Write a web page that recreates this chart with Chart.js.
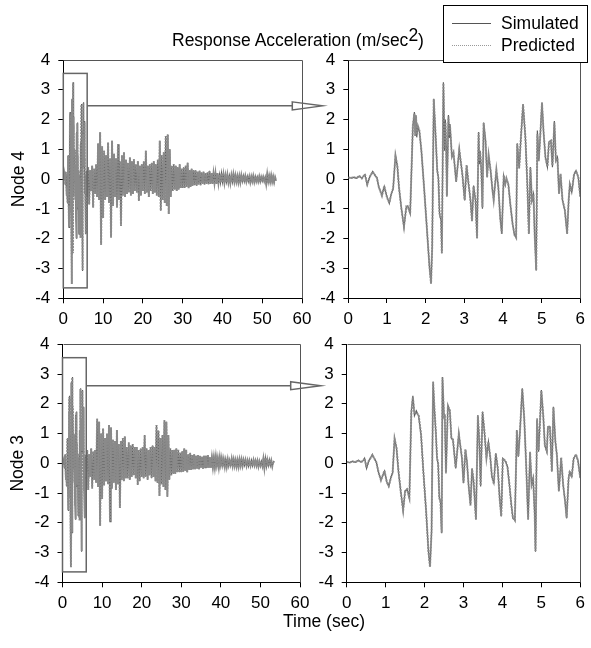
<!DOCTYPE html>
<html>
<head>
<meta charset="utf-8">
<script src="https://cdn.jsdelivr.net/npm/chart.js@4.4.1/dist/chart.umd.min.js"></script>
<style>
html,body{margin:0;padding:0;background:#fff;}
#wrap{position:relative;width:591px;height:648px;overflow:hidden;font-family:"Liberation Sans",Arial,sans-serif;color:#000;}
#wrap canvas{position:absolute;left:0;top:0;}
.txt{position:absolute;font-size:17.5px;white-space:nowrap;line-height:18px;}
#legendBox{position:absolute;left:443px;top:5px;width:145px;height:58px;border:1px solid #000;background:#fff;box-sizing:border-box;}
.sample{position:absolute;left:452px;width:39px;height:0;}
</style>
</head>
<body>
<div id="wrap">
  <canvas id="c4full" width="591" height="648"></canvas>
  <canvas id="c4zoom" width="591" height="648"></canvas>
  <canvas id="c3full" width="591" height="648"></canvas>
  <canvas id="c3zoom" width="591" height="648"></canvas>
  <div class="txt" style="left:172px;top:31px;">Response Acceleration (m/sec<span style="position:relative;top:-5px;">2</span>)</div>
  <div id="legendBox"></div>
  <div id="sampleSim" class="sample" style="top:23px;"></div>
  <div id="samplePred" class="sample" style="top:45px;"></div>
  <div id="labSim" class="txt" style="left:501px;top:14px;"></div>
  <div id="labPred" class="txt" style="left:501px;top:36px;"></div>
  <div class="txt" style="left:283px;top:612px;">Time (sec)</div>
</div>
<script>
// ---------------- DATA ----------------
const seriesNames = ["Simulated", "Predicted"];
const nodeNames = ["Node 4", "Node 3"];

// Node 4, first 6 seconds (zoomed panel)
const time4 = [0.00,0.08,0.15,0.22,0.28,0.35,0.43,0.49,0.55,0.63,
 0.69,0.74,0.79,0.87,0.93,1.00,1.06,1.11,1.16,1.22,
 1.27,1.31,1.37,1.44,1.50,1.54,1.60,1.67,1.71,1.73,
 1.75,1.77,1.80,1.84,1.89,1.96,2.03,2.10,2.14,2.17,
 2.21,2.26,2.30,2.33,2.36,2.40,2.42,2.46,2.49,2.51,
 2.53,2.55,2.59,2.61,2.63,2.68,2.72,2.79,2.87,2.95,
 3.01,3.06,3.11,3.16,3.20,3.24,3.29,3.33,3.37,3.39,
 3.41,3.44,3.47,3.50,3.55,3.59,3.63,3.68,3.73,3.76,
 3.83,3.88,3.93,3.97,4.02,4.06,4.09,4.14,4.19,4.25,
 4.30,4.34,4.37,4.42,4.46,4.52,4.58,4.63,4.67,4.71,
 4.75,4.79,4.82,4.86,4.89,4.93,4.97,5.01,5.05,5.10,
 5.15,5.19,5.24,5.28,5.33,5.37,5.41,5.45,5.49,5.54,
 5.60,5.66,5.70,5.73,5.78,5.84,5.89,5.95,6.00];
const simulated4 = [0.05,0.03,0.06,0.02,0.10,0.03,0.15,-0.20,0.05,0.25,
 0.12,0.05,-0.28,-0.55,-0.25,-0.60,-0.82,-0.50,-0.33,0.80,
 0.40,-0.28,-0.95,-1.62,-0.95,-0.90,-1.17,1.75,2.25,1.60,
 2.10,1.40,1.80,1.58,0.95,-0.28,-1.62,-2.97,-3.50,-2.30,
 2.70,1.40,0.28,0.05,-1.17,-1.40,-2.50,3.25,0.95,2.00,
 1.10,-0.60,2.15,1.40,1.85,0.73,0.90,-0.10,1.00,0.15,
 -0.72,0.45,-0.17,-0.72,-1.40,-0.22,-0.72,-2.00,1.58,0.50,
 0.95,0.28,-1.00,1.90,1.30,0.05,0.78,0.28,-0.40,-0.68,
 0.28,-0.28,-1.30,-1.85,0.10,-0.20,0.00,-0.17,-0.85,-1.50,
 -1.90,-1.95,1.20,0.35,1.30,2.52,1.40,-0.17,-1.85,0.40,
 -0.72,-0.50,-1.85,-3.08,1.63,0.60,1.63,2.58,1.58,0.73,
 0.40,1.25,1.30,0.40,1.95,0.60,0.73,-0.50,0.15,-0.72,
 -1.05,-1.85,-0.72,-0.17,-0.45,0.15,0.28,0.05,-0.60];
const predicted4 = [0.05,0.04,0.05,0.03,0.11,0.02,0.16,-0.18,0.06,0.24,
 0.13,0.04,-0.27,-0.56,-0.24,-0.62,-0.80,-0.52,-0.31,0.78,
 0.44,-0.25,-0.97,-1.60,-0.92,-0.93,-1.14,1.80,2.20,1.45,
 2.15,1.50,1.78,1.62,0.97,-0.30,-1.60,-2.95,-3.52,-2.28,
 2.68,1.45,0.30,0.02,-1.15,-1.38,-2.48,3.22,1.05,1.90,
 1.20,-0.55,2.10,1.50,1.80,0.75,0.88,-0.08,0.98,0.17,
 -0.70,0.47,-0.15,-0.70,-1.42,-0.25,-0.70,-1.98,1.55,0.60,
 0.90,0.35,-0.95,1.88,1.25,0.08,0.80,0.30,-0.38,-0.70,
 0.30,-0.25,-1.32,-1.83,0.12,-0.15,0.02,-0.19,-0.83,-1.52,
 -1.88,-1.97,1.18,0.38,1.28,2.50,1.42,-0.15,-1.83,0.38,
 -0.70,-0.52,-1.83,-3.05,1.50,0.70,1.55,2.55,1.60,0.70,
 0.42,1.22,1.28,0.45,1.90,0.62,0.70,-0.48,0.17,-0.70,
 -1.03,-1.83,-0.70,-0.19,-0.43,0.17,0.26,0.07,-0.58];

// Node 3, first 6 seconds (zoomed panel)
const time3 = [0.00,0.08,0.15,0.22,0.30,0.36,0.42,0.46,0.51,0.56,
 0.66,0.71,0.76,0.82,0.88,0.97,1.03,1.08,1.14,1.18,
 1.23,1.28,1.33,1.39,1.45,1.50,1.55,1.61,1.66,1.70,
 1.74,1.79,1.85,1.91,1.97,2.04,2.10,2.14,2.18,2.22,
 2.25,2.29,2.32,2.35,2.38,2.41,2.44,2.46,2.50,2.52,
 2.55,2.60,2.65,2.69,2.73,2.80,2.88,2.96,3.00,3.05,
 3.09,3.13,3.18,3.22,3.26,3.32,3.37,3.41,3.44,3.49,
 3.54,3.59,3.64,3.69,3.73,3.78,3.83,3.88,3.93,3.97,
 4.01,4.08,4.13,4.18,4.23,4.27,4.32,4.37,4.41,4.45,
 4.51,4.56,4.61,4.66,4.71,4.75,4.79,4.83,4.85,4.89,
 4.93,4.96,5.00,5.05,5.09,5.14,5.17,5.22,5.27,5.31,
 5.36,5.40,5.45,5.51,5.56,5.61,5.65,5.70,5.73,5.78,
 5.83,5.89,5.94,6.00];
const simulated3 = [0.04,0.02,0.07,0.03,0.10,0.04,0.08,0.17,-0.17,0.05,
 0.30,0.15,0.05,-0.33,-0.56,-0.26,-0.62,-0.78,-0.45,-0.33,
 0.84,0.50,-0.28,-0.95,-1.60,-0.95,-0.86,-1.18,1.74,2.27,
 1.60,1.76,1.57,0.95,-0.28,-1.62,-2.97,-3.47,-2.30,2.75,
 1.85,1.06,0.17,-0.05,-1.18,-1.29,-2.35,2.90,1.62,1.56,
 -0.34,1.96,1.74,0.84,0.78,-0.17,1.00,0.17,-0.67,0.45,
 0.05,-0.73,-1.40,-0.17,-0.62,-1.90,1.62,0.62,-0.78,1.74,
 1.00,0.17,0.73,0.17,-0.45,-0.67,0.34,-0.17,-1.18,-1.79,
 0.17,0.06,-0.11,-0.73,-1.40,-1.85,-1.90,1.12,0.22,1.06,
 2.52,1.51,-0.06,-1.90,0.39,-0.73,-0.50,-1.74,-2.97,1.51,
 0.39,1.29,2.46,1.57,0.62,0.39,1.23,1.23,-0.28,1.90,
 0.73,0.28,-0.95,0.17,-0.73,-1.29,-1.85,-0.50,-0.28,-0.45,
 0.17,0.28,0.11,-0.50];
const predicted3 = [0.04,0.03,0.06,0.04,0.09,0.05,0.07,0.16,-0.15,0.06,
 0.28,0.16,0.04,-0.31,-0.57,-0.25,-0.63,-0.76,-0.47,-0.31,
 0.82,0.52,-0.26,-0.97,-1.58,-0.93,-0.88,-1.16,1.70,2.22,
 1.70,1.72,1.60,0.97,-0.30,-1.60,-2.95,-3.49,-2.28,2.72,
 1.95,1.02,0.20,-0.02,-1.16,-1.31,-2.33,2.88,1.50,1.65,
 -0.30,1.92,1.78,0.82,0.80,-0.15,0.98,0.19,-0.65,0.47,
 0.03,-0.71,-1.42,-0.19,-0.60,-1.88,1.58,0.70,-0.75,1.72,
 1.05,0.19,0.71,0.19,-0.43,-0.69,0.32,-0.15,-1.20,-1.77,
 0.15,0.08,-0.13,-0.71,-1.42,-1.83,-1.92,1.10,0.25,1.04,
 2.50,1.53,-0.04,-1.88,0.37,-0.71,-0.52,-1.72,-2.95,1.45,
 0.45,1.22,2.44,1.59,0.60,0.41,1.21,1.25,-0.26,1.88,
 0.75,0.26,-0.93,0.19,-0.71,-1.27,-1.83,-0.52,-0.26,-0.47,
 0.15,0.30,0.09,-0.48];

// Record after 6 s (full-length panels), sampled every 0.25 s from 6.25 s
const tailStart = 6, tailStep = 0.25;
const tail4 = [
 0.40,-0.85,0.30,-0.40, 0.45,-0.95,0.35,-0.50, 0.50,-0.60,1.20,-0.70, 1.57,-2.20,1.10,-1.30,
 0.95,-0.70,0.80,-0.60, 1.23,-0.80,0.70,-1.96, 1.29,-0.90,0.85,-0.60, 0.70,-0.95,1.17,-0.70,
 0.60,-1.57,0.80,-0.55, 0.90,-0.60,0.65,-0.50, 0.55,-0.45,0.73,-0.55, 0.60,-0.50,0.67,-0.40,
 0.50,-0.45,0.60,-0.73, 0.45,-0.55,0.50,-0.40, 0.60,-0.50,0.95,-0.45, 0.45,-0.60,0.50,-0.40,
 0.55,-0.50,0.60,-0.45, 0.50,-0.55,0.65,-0.60, 1.29,-1.06,0.80,-0.70, 0.90,-0.80,1.45,-0.90,
 1.50,-1.17,1.00,-0.60, 0.45,-0.40,0.50,-0.35, 0.45,-0.40,0.40,-0.35, 0.50,-0.30,0.35,-0.30,
 0.40,-0.30,0.45,-0.25, 0.55,-0.30,0.30,-0.25, 0.35,-0.22,0.30,-0.20, 0.30,-0.22,0.25,-0.18,
 0.28,-0.20,0.22,-0.15, 0.25,-0.18,0.20,-0.15, 0.22,-0.17,0.28,-0.15, 0.20,-0.15,0.18,-0.12,
 0.18,-0.15,0.20,-0.12, 0.15,-0.12,0.20,-0.10, 0.15,-0.12,0.12,-0.10, 0.14,-0.10,0.12,-0.12,
 0.12,-0.10,0.15,-0.08, 0.12,-0.08,0.10,-0.10, 0.10,-0.10,0.12,-0.08, 0.12,-0.08,0.10,-0.07,
 0.10,-0.08,0.08,-0.10, 0.08,-0.07,0.10,-0.08, 0.10,-0.06,0.08,-0.07, 0.08,-0.10,0.06,-0.07,
 0.07,-0.06,0.08,-0.15, 0.15,-0.12,0.10,-0.08, 0.12,-0.08,0.08,-0.10, 0.06,-0.05];
const tail3 = [
 0.45,-0.90,0.30,-0.45, 0.50,-0.85,0.40,-0.55, 0.45,-0.65,1.50,-0.80, 1.40,-2.10,1.00,-1.20,
 1.17,-0.75,0.85,-0.60, 1.00,-0.70,1.29,-1.96, 1.20,-0.85,0.80,-0.65, 0.75,-0.90,1.12,-0.70,
 0.65,-1.50,0.75,-0.55, 0.85,-0.60,0.90,-0.50, 0.55,-0.50,0.70,-0.55, 0.60,-0.45,0.65,-0.40,
 0.55,-0.50,0.55,-0.73, 0.45,-0.60,0.50,-0.45, 0.55,-0.50,0.95,-0.45, 0.50,-0.55,0.45,-0.40,
 0.55,-0.50,0.60,-0.45, 0.55,-0.60,1.29,-0.65, 1.10,-1.10,0.85,-0.70, 0.95,-0.80,1.45,-0.90,
 1.40,-1.12,0.95,-0.55, 0.50,-0.40,0.45,-0.35, 0.45,-0.35,0.50,-0.30, 0.45,-0.30,0.35,-0.30,
 0.40,-0.28,0.50,-0.25, 0.45,-0.30,0.30,-0.22, 0.35,-0.22,0.28,-0.20, 0.30,-0.20,0.25,-0.18,
 0.28,-0.20,0.25,-0.15, 0.22,-0.18,0.25,-0.15, 0.25,-0.15,0.28,-0.15, 0.20,-0.15,0.18,-0.12,
 0.18,-0.12,0.20,-0.12, 0.15,-0.12,0.18,-0.10, 0.15,-0.10,0.12,-0.10, 0.15,-0.10,0.12,-0.10,
 0.12,-0.08,0.14,-0.08, 0.12,-0.08,0.10,-0.10, 0.10,-0.10,0.12,-0.07, 0.12,-0.08,0.10,-0.07,
 0.10,-0.08,0.08,-0.10, 0.08,-0.07,0.10,-0.08, 0.10,-0.06,0.08,-0.07, 0.08,-0.10,0.06,-0.07,
 0.07,-0.08,0.15,-0.15, 0.18,-0.12,0.10,-0.08, 0.12,-0.08,0.08,-0.10, 0.06,0.03];

// Axis ticks
const xTicksFull = [0,10,20,30,40,50,60];
const xTicksZoom = [0,1,2,3,4,5,6];
const yTicks = [-4,-3,-2,-1,0,1,2,3,4];

// Zoom window marked on the full-length panels, and where the arrows leave it
const zoomWindow = {x0:0, x1:6, y0:-3.65, y1:3.55};
const arrowLevel4 = 2.46;
const arrowLevel3 = 2.61;

// ---------------- STYLE ----------------
const FONT = '"Liberation Sans", Arial, sans-serif';
Chart.defaults.font.family = FONT;
Chart.defaults.font.size = 17;
Chart.defaults.color = '#000';
const simStyle = {borderColor:'#5e5e5e', borderWidth:1.2, borderDash:[]};
const predStyle = {borderColor:'#8a8a8a', borderWidth:2, borderDash:[2,1]};

document.getElementById('labSim').textContent = seriesNames[0];
document.getElementById('labPred').textContent = seriesNames[1];
document.getElementById('sampleSim').style.borderTop = '1px solid #555';
document.getElementById('samplePred').style.borderTop = '1px dotted #999';

function pts(ts, vs){ return vs.map((v,i)=>({x:ts[i], y:v})); }
function tailPts(vs){ return vs.map((v,i)=>({x: tailStart + tailStep*(i+1), y:v})); }

const framePlugin = {
  id:'frame',
  afterDraw(chart){
    const a = chart.chartArea, ctx = chart.ctx;
    ctx.save();
    ctx.strokeStyle = '#555';
    ctx.lineWidth = 1;
    ctx.beginPath();
    ctx.moveTo(Math.round(a.left)+0.5, Math.round(a.top)+0.5);
    ctx.lineTo(Math.round(a.right)+0.5, Math.round(a.top)+0.5);
    ctx.lineTo(Math.round(a.right)+0.5, Math.round(a.bottom)+0.5);
    ctx.stroke();
    ctx.restore();
  }
};

const zoomBoxPlugin = {
  id:'zoomBox',
  afterDatasetsDraw(chart){
    const xs = chart.scales.x, ys = chart.scales.y, ctx = chart.ctx;
    const l = xs.getPixelForValue(zoomWindow.x0), r = xs.getPixelForValue(zoomWindow.x1);
    const t = ys.getPixelForValue(zoomWindow.y1), b = ys.getPixelForValue(zoomWindow.y0);
    ctx.save();
    ctx.strokeStyle = '#666';
    ctx.lineWidth = 1.5;
    ctx.strokeRect(l, t, r-l, b-t);
    ctx.restore();
  }
};

function makeArrowPlugin(getSource, level){
  return {
    id:'arrow',
    afterDraw(chart){
      const src = getSource();
      const x0 = src.scales.x.getPixelForValue(zoomWindow.x1);
      const y = src.scales.y.getPixelForValue(level);
      const tip = chart.chartArea.left - 26;
      const back = tip - 30, hh = 4;
      const ctx = chart.ctx;
      ctx.save();
      ctx.strokeStyle = '#666';
      ctx.lineWidth = 1.5;
      ctx.beginPath();
      ctx.moveTo(x0, y); ctx.lineTo(back, y);
      ctx.moveTo(back, y-hh); ctx.lineTo(tip, y); ctx.lineTo(back, y+hh); ctx.closePath();
      ctx.stroke();
      ctx.restore();
    }
  };
}

function makeChart(id, cfg){
  const datasets = [
    Object.assign({label:seriesNames[0], data:cfg.sim, order:1, pointRadius:0, tension:0, fill:false}, simStyle),
    Object.assign({label:seriesNames[1], data:cfg.pred, order:0, pointRadius:0, tension:0, fill:false}, predStyle)
  ];
  return new Chart(document.getElementById(id), {
    type:'line',
    data:{datasets},
    plugins: cfg.plugins,
    options:{
      responsive:false, animation:false, devicePixelRatio:1,
      layout:{padding:cfg.pad},
      plugins:{legend:{display:false}, tooltip:{enabled:false}, title:{display:false}},
      scales:{
        x:{type:'linear', min:cfg.xt[0], max:cfg.xt[cfg.xt.length-1],
           afterBuildTicks(s){ s.ticks = cfg.xt.map(v=>({value:v})); },
           ticks:{padding:6, color:'#000', maxRotation:0, autoSkip:false, font:{size:17}},
           grid:{drawOnChartArea:false, drawTicks:true, tickLength:5, color:'#000', lineWidth:1},
           border:{display:true, color:'#000', width:1},
           afterFit(s){ s.height = 40; }},
        y:{type:'linear', min:yTicks[0], max:yTicks[yTicks.length-1],
           afterBuildTicks(s){ s.ticks = yTicks.map(v=>({value:v})); },
           ticks:{padding:8, color:'#000', font:{size:17}},
           grid:{drawOnChartArea:false, drawTicks:true, tickLength:5, color:'#000', lineWidth:1},
           border:{display:true, color:'#000', width:1},
           title:{display:!!cfg.ytitle, text:cfg.ytitle||'', color:'#000', font:{size:17.5}, padding:{top:3,bottom:0}},
           afterFit(s){ s.width = 58; }}
      }
    }
  });
}

const full4 = makeChart('c4full', {
  sim: pts(time4, simulated4).concat(tailPts(tail4)),
  pred: pts(time4, predicted4).concat(tailPts(tail4)),
  xt: xTicksFull, ytitle: nodeNames[0],
  pad:{left:5.3, right:289, top:60, bottom:309.7},
  plugins:[framePlugin, zoomBoxPlugin]
});
const zoom4 = makeChart('c4zoom', {
  sim: pts(time4, simulated4), pred: pts(time4, predicted4),
  xt: xTicksZoom,
  pad:{left:290.3, right:5, top:60, bottom:310},
  plugins:[framePlugin, makeArrowPlugin(()=>full4, arrowLevel4)]
});
const full3 = makeChart('c3full', {
  sim: pts(time3, simulated3).concat(tailPts(tail3)),
  pred: pts(time3, predicted3).concat(tailPts(tail3)),
  xt: xTicksFull, ytitle: nodeNames[1],
  pad:{left:4.5, right:291, top:344.3, bottom:25.7},
  plugins:[framePlugin, zoomBoxPlugin]
});
const zoom3 = makeChart('c3zoom', {
  sim: pts(time3, simulated3), pred: pts(time3, predicted3),
  xt: xTicksZoom,
  pad:{left:288.7, right:6, top:344.3, bottom:25.7},
  plugins:[framePlugin, makeArrowPlugin(()=>full3, arrowLevel3)]
});
</script>
</body>
</html>
